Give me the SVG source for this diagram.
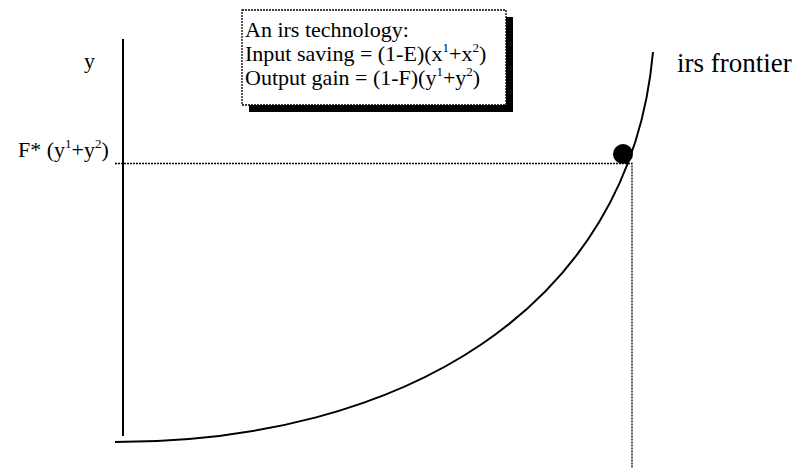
<svg xmlns="http://www.w3.org/2000/svg" width="799" height="472" viewBox="0 0 799 472" font-family="'Liberation Serif', 'DejaVu Serif', serif">
<style>
text{font-family:'Liberation Serif','DejaVu Serif',serif;fill:#000}
.t{font-size:22px}
.sup{font-size:13px}
.dash{fill:none;stroke:#000;stroke-width:1.3;stroke-dasharray:2 1}
.solid{fill:none;stroke:#000;stroke-width:2}
</style>
<rect width="799" height="472" fill="#fff"/>
<g id="axis">
<line class="solid" x1="123" y1="39" x2="123" y2="436"/>
</g>
<g id="connectors">
<polyline class="dash" points="115,163.5 632,163.5 632,468"/>
</g>
<g id="frontier">
<path class="solid" d="M115,442 C400,442 630,310 653,52"/>
<circle cx="623" cy="154" r="10" fill="#000"/>
</g>
<g id="label-y">
<text class="t" x="84" y="68" font-family="'Liberation Serif', 'DejaVu Serif', serif">y</text>
</g>
<g id="label-F">
<text class="t" x="18" y="157" font-family="'Liberation Serif', 'DejaVu Serif', serif">F* (y<tspan class="sup" dy="-9">1</tspan><tspan dy="9">+y</tspan><tspan class="sup" dy="-9">2</tspan><tspan dy="9">)</tspan></text>
</g>
<g id="label-frontier">
<text x="677" y="72" style="font-size:27px" font-family="'Liberation Serif', 'DejaVu Serif', serif">irs frontier</text>
</g>
<g id="infobox">
<rect x="249" y="17" width="264" height="95" fill="#000"/>
<rect class="dash" x="242" y="10" width="264" height="95" style="fill:#fff"/>
<text class="t" x="245" y="37" font-family="'Liberation Serif', 'DejaVu Serif', serif">An irs technology:</text>
<text class="t" x="245" y="61" font-family="'Liberation Serif', 'DejaVu Serif', serif">Input saving = (1-E)(x<tspan class="sup" dy="-9">1</tspan><tspan dy="9">+x</tspan><tspan class="sup" dy="-9">2</tspan><tspan dy="9">)</tspan></text>
<text class="t" x="245" y="85" font-family="'Liberation Serif', 'DejaVu Serif', serif">Output gain = (1-F)(y<tspan class="sup" dy="-9">1</tspan><tspan dy="9">+y</tspan><tspan class="sup" dy="-9">2</tspan><tspan dy="9">)</tspan></text>
</g>
</svg>
